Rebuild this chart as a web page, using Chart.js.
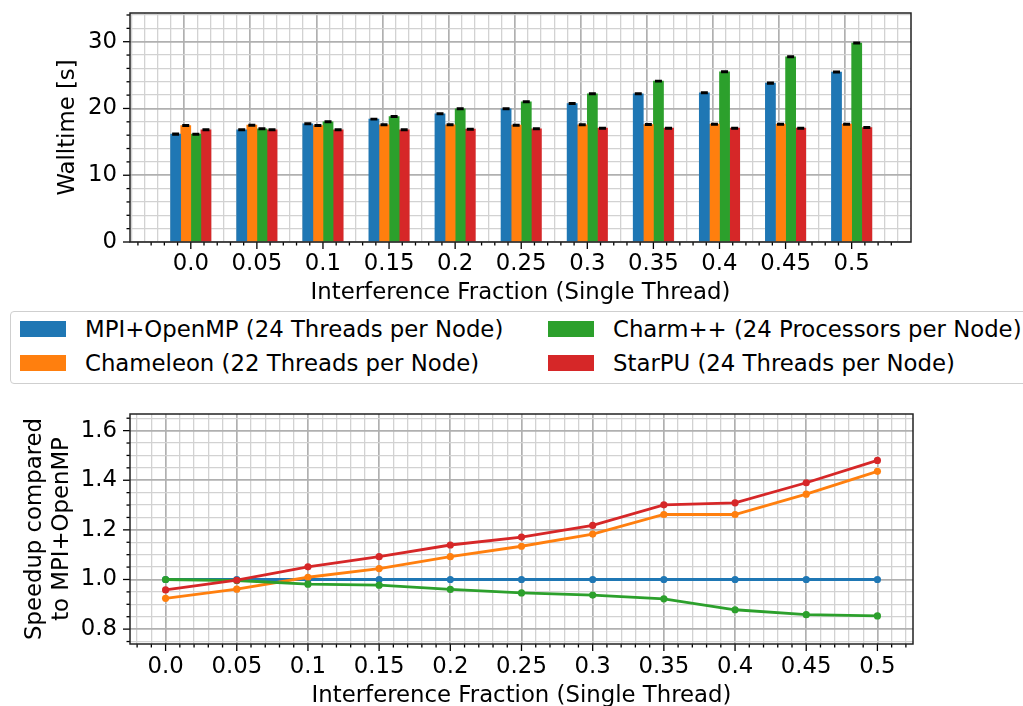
<!DOCTYPE html>
<html><head><meta charset="utf-8">
<script src="https://cdn.jsdelivr.net/npm/chart.js@4.4.1/dist/chart.umd.min.js"></script>
<style>
body{margin:0;background:#fff;overflow:hidden;font-family:"DejaVu Sans";}
canvas{position:absolute;left:0}
#top{top:0} #bot{top:400px}
#legend{position:absolute;left:10px;top:311px;width:1040px;height:73px;border:1px solid #cfcfcf;border-radius:4px;box-sizing:border-box}
.sw{position:absolute;width:46px;height:16px}
.lb{position:absolute;font-size:22.8px;line-height:26px;white-space:nowrap;color:#000}
</style></head><body>
<canvas id="top" width="1023" height="310"></canvas>
<div id="legend"></div>
<canvas id="bot" width="1023" height="330"></canvas>
<script>
/* ---------- DATA ---------- */
let cats=["0.0","0.05","0.1","0.15","0.2","0.25","0.3","0.35","0.4","0.45","0.5"];
let fracs=[0,0.05,0.1,0.15,0.2,0.25,0.3,0.35,0.4,0.45,0.5];
let names=["MPI+OpenMP (24 Threads per Node)","Chameleon (22 Threads per Node)","Charm++ (24 Processors per Node)","StarPU (24 Threads per Node)"];
let colors=["#1f77b4","#ff7f0e","#2ca02c","#d62728"];

// walltime [s]
let mpiWall=[16.15,16.8,17.7,18.4,19.2,19.95,20.75,22.2,22.35,23.8,25.45];
let chamWall=[17.45,17.5,17.45,17.55,17.55,17.5,17.55,17.6,17.65,17.65,17.65];
let charmWall=[16.15,16.95,18.0,18.8,19.95,21.0,22.2,24.1,25.5,27.75,29.8];
let starWall=[16.8,16.8,16.8,16.8,16.9,16.95,17.05,17.05,17.05,17.05,17.15];
// error bars
let mpiErr=[0.12,0.1,0.1,0.1,0.1,0.1,0.1,0.1,0.1,0.12,0.1];
let chamErr=[0.1,0.1,0.1,0.1,0.1,0.1,0.1,0.1,0.1,0.1,0.1];
let charmErr=[0.1,0.1,0.1,0.1,0.1,0.1,0.1,0.1,0.1,0.12,0.1];
let starErr=[0.1,0.1,0.1,0.1,0.1,0.1,0.1,0.1,0.1,0.1,0.1];

// speedup compared to MPI+OpenMP
let mpiSp=[1,1,1,1,1,1,1,1,1,1,1];
let chamSp=[0.924,0.961,1.009,1.044,1.092,1.134,1.183,1.262,1.262,1.344,1.436];
let charmSp=[1.0,0.996,0.981,0.977,0.960,0.946,0.937,0.922,0.878,0.858,0.853];
let starSp=[0.958,0.997,1.051,1.092,1.139,1.171,1.218,1.301,1.309,1.390,1.480];

Chart.defaults.font.family="DejaVu Sans";
Chart.defaults.font.size=22.8;
Chart.defaults.color="#000";

/* ---------- HELPERS ---------- */
function mk(k0,k1,unit,isMajor){
 let t=[];
 for(let k=k0;k<=k1;k++) t.push({value:Math.round(k*unit*1000)/1000,mj:isMajor(k)});
 return t;
}
function grid(){
 return {color:c=>c.tick&&c.tick.mj?"#b0b0b0":"#d2d2d2",lineWidth:c=>c.tick&&c.tick.mj?1.7:1.3,drawTicks:false};
}
// fixed axis size, no extra label padding so the plot area is exact
function fitX(h){ return s=>{s.height=h;s.paddingLeft=0;s.paddingRight=0;}; }
function fitY(w){ return s=>{s.width=w;s.paddingTop=0;s.paddingBottom=0;}; }
let axisDeco={id:"axisDeco",
 afterDraw(c){
  let ctx=c.ctx,a=c.chartArea;
  ctx.save();ctx.strokeStyle="#000";ctx.lineWidth=1.3;
  Object.values(c.scales).forEach(s=>{
   s.ticks.forEach(t=>{
    let L=t.mj?7:3.5,p=s.getPixelForValue(t.value);
    ctx.beginPath();
    if(s.axis=="x"){ctx.moveTo(p,a.bottom);ctx.lineTo(p,a.bottom+L);}
    else{ctx.moveTo(a.left,p);ctx.lineTo(a.left-L,p);}
    ctx.stroke();
   });
  });
  ctx.lineWidth=1.5;ctx.strokeStyle="#222";
  ctx.strokeRect(a.left,a.top,a.right-a.left,a.bottom-a.top);
  ctx.restore();
 }};
let errCaps={id:"errCaps",
 afterDatasetsDraw(c){
  let ctx=c.ctx,y=c.scales.y;
  ctx.save();ctx.strokeStyle="#000";ctx.lineWidth=1.6;
  c.data.datasets.forEach((d,i)=>{
   c.getDatasetMeta(i).data.forEach((bar,j)=>{
    let v=d.data[j].y,e=d.err[j],hi=y.getPixelForValue(v+e),lo=y.getPixelForValue(v-e);
    ctx.beginPath();
    ctx.moveTo(bar.x-3.5,hi);ctx.lineTo(bar.x+3.5,hi);
    ctx.moveTo(bar.x-3.5,lo);ctx.lineTo(bar.x+3.5,lo);
    ctx.moveTo(bar.x,hi);ctx.lineTo(bar.x,lo);
    ctx.stroke();
   });
  });
  ctx.restore();
 }};

/* ---------- WALLTIME BARS ---------- */
let walls=[mpiWall,chamWall,charmWall,starWall],errs=[mpiErr,chamErr,charmErr,starErr];
new Chart(document.getElementById("top"),{
 type:"bar",
 data:{datasets:walls.map((w,s)=>({
  label:names[s],backgroundColor:colors[s],borderWidth:0,barThickness:10.1,err:errs[s],
  data:w.map((v,i)=>({x:i,y:v}))}))},
 options:{responsive:false,animation:false,
  layout:{padding:{top:13,right:112,left:0,bottom:0}},
  plugins:{legend:{display:false},tooltip:{enabled:false}},
  scales:{
   x:{type:"linear",min:-0.818,max:10.796,grid:grid(),border:{display:false},
    afterBuildTicks:s=>{s.ticks=mk(-4,53,0.2,k=>k%5==0&&k>=0&&k<=50);},
    afterFit:fitX(68),
    ticks:{autoSkip:false,maxRotation:0,padding:8.8,callback:(v,i,ts)=>ts[i].mj?cats[Math.round(v)]:""},
    title:{display:true,text:"Interference Fraction (Single Thread)",padding:{top:0,bottom:2.9}}},
   y:{min:0,max:34.3,grid:grid(),border:{display:false},
    afterBuildTicks:s=>{s.ticks=mk(0,17,2,k=>k%5==0);},
    afterFit:fitY(130),
    ticks:{autoSkip:false,padding:13,callback:(v,i,ts)=>ts[i].mj?String(v):""},
    title:{display:true,text:"Walltime [s]",padding:{top:54.3,bottom:0}}}
  }},
 plugins:[errCaps,axisDeco]
});

/* ---------- LEGEND ---------- */
let lg=document.getElementById("legend");
names.forEach((n,s)=>{
 let col=Math.floor(s/2),row=s%2;
 lg.innerHTML+=`<div class="sw" style="left:${8.6+col*528.4}px;top:${9+row*34}px;background:${colors[s]}"></div>
 <div class="lb" style="left:${74+col*528}px;top:${4+row*34}px">${n}</div>`;
});

/* ---------- SPEEDUP LINES ---------- */
let sps=[mpiSp,chamSp,charmSp,starSp];
new Chart(document.getElementById("bot"),{
 type:"line",
 data:{datasets:sps.map((sp,s)=>({
  label:names[s],borderColor:colors[s],backgroundColor:colors[s],borderWidth:2.8,
  pointRadius:3.6,pointBorderWidth:0,tension:0,order:3-s,
  data:sp.map((v,i)=>({x:fracs[i],y:v}))}))},
 options:{responsive:false,animation:false,
  layout:{padding:{top:14,right:110,left:0,bottom:0}},
  plugins:{legend:{display:false},tooltip:{enabled:false}},
  scales:{
   x:{type:"linear",min:-0.025,max:0.525,grid:grid(),border:{display:false},
    afterBuildTicks:s=>{s.ticks=mk(-2,52,0.01,k=>k%5==0&&k>=0&&k<=50);},
    afterFit:fitX(86),
    ticks:{autoSkip:false,maxRotation:0,padding:9,callback:(v,i,ts)=>ts[i].mj?cats[Math.round(v*20)]:""},
    title:{display:true,text:"Interference Fraction (Single Thread)",padding:{top:0,bottom:20.4}}},
   y:{min:0.74,max:1.667,grid:grid(),border:{display:false},
    afterBuildTicks:s=>{s.ticks=mk(15,33,0.05,k=>k%4==0);},
    afterFit:fitY(130),
    ticks:{autoSkip:false,padding:13,callback:(v,i,ts)=>ts[i].mj?v.toFixed(1):""},
    title:{display:true,text:["Speedup compared","to MPI+OpenMP"],padding:{top:21.3,bottom:0}}}
  }},
 plugins:[axisDeco]
});
</script>
</body></html>
